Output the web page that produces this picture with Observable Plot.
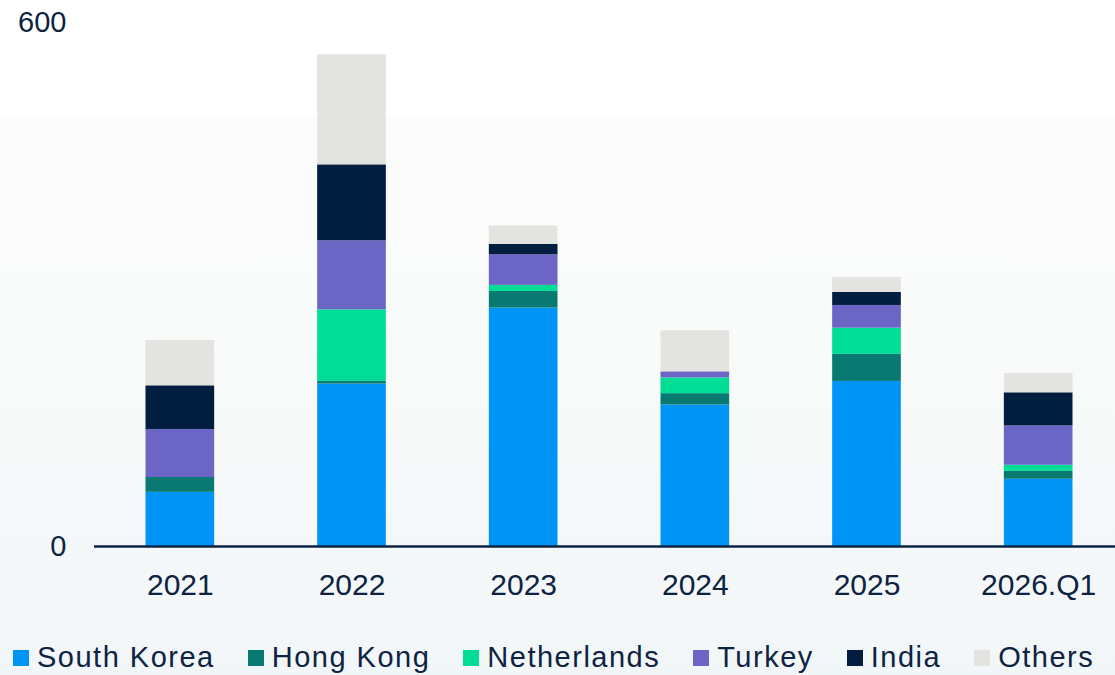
<!DOCTYPE html>
<html>
<head>
<meta charset="utf-8">
<script src="https://cdn.jsdelivr.net/npm/d3@7"></script>
<script src="https://cdn.jsdelivr.net/npm/@observablehq/plot@0.6"></script>
<style>
  html, body { margin: 0; padding: 0; }
  body {
    width: 1115px; height: 675px; overflow: hidden;
    font-family: "Liberation Sans", Arial, sans-serif;
    color: #0e2341;
    background: linear-gradient(to bottom, #ffffff 0px, #ffffff 114px, #fcfcfc 116px, #f8fafa 60%, #f1f6f8 100%);
  }
  #chart svg { display: block; }
  #legend {
    display: flex; align-items: center; gap: 33px;
    padding-left: 13px; padding-top: 20px; height: 35px;
    font-size: 29px; letter-spacing: 1.5px; white-space: nowrap;
  }
  .item { display: flex; align-items: center; gap: 8px; }
  .sw { width: 16px; height: 16px; display: inline-block; }
</style>
</head>
<body>
<div id="chart"></div>
<div id="legend"></div>
<script>
const years = ["2021", "2022", "2023", "2024", "2025", "2026.Q1"];
const seriesNames = ["South Korea", "Hong Kong", "Netherlands", "Turkey", "India", "Others"];
const seriesColors = ["#0094f6", "#087a72", "#00de95", "#6b66c6", "#011e40", "#e3e3df"];

const southKorea  = [62, 186, 273, 162, 189, 77];
const hongKong    = [17, 3, 19, 13, 31, 9];
const netherlands = [0, 82, 7, 18, 30, 7];
const turkey      = [55, 79, 35, 7, 26, 45];
const india       = [50, 87, 12, 0, 15, 38];
const others      = [52, 126, 21, 47, 17, 22];

const yTicks = [0, 600];

const seriesValues = [southKorea, hongKong, netherlands, turkey, india, others];
const data = [];
seriesNames.forEach((name, si) => {
  years.forEach((yr, i) => data.push({ year: yr, series: name, value: seriesValues[si][i] }));
});

const ink = "#0e2341";

const chart = Plot.plot({
  width: 1115,
  height: 620,
  marginLeft: 94,
  marginRight: -9,
  marginTop: 22,
  marginBottom: 74,
  style: { fontFamily: "'Liberation Sans', Arial, sans-serif", fontSize: "30px", color: ink, background: "transparent", overflow: "visible" },
  x: { domain: years, paddingInner: 0.6, paddingOuter: 0.3, round: false, label: null },
  y: { domain: [0, 600], label: null },
  color: { domain: seriesNames, range: seriesColors },
  marks: [
    Plot.barY(data, { x: "year", y: "value", fill: "series", order: seriesNames }),
    Plot.ruleY([0], { stroke: "#0b2446", strokeWidth: 2.5 }),
    Plot.axisX({ tickSize: 0, tickPadding: 27, fontSize: 30, label: null }),
    Plot.axisY({ ticks: yTicks, tickSize: 0, tickPadding: 28, tickFormat: d => String(d), fontSize: 29, label: null })
  ]
});
document.getElementById("chart").appendChild(chart);

const legend = document.getElementById("legend");
seriesNames.forEach((name, i) => {
  const item = document.createElement("div");
  item.className = "item";
  const sw = document.createElement("span");
  sw.className = "sw";
  sw.style.background = seriesColors[i];
  const t = document.createElement("span");
  t.textContent = name;
  item.appendChild(sw);
  item.appendChild(t);
  legend.appendChild(item);
});
</script>
</body>
</html>
